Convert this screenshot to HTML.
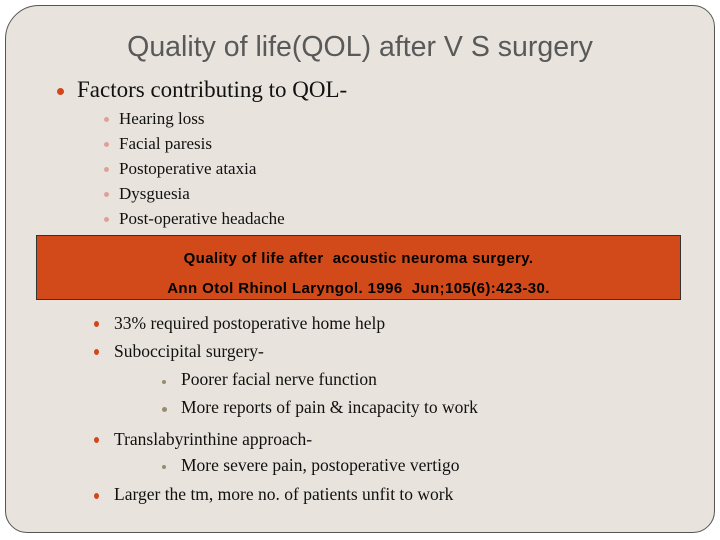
<!DOCTYPE html><html><head><style>
body{margin:0;width:720px;height:540px;background:#fff;position:relative;overflow:hidden}
.panel{position:absolute;left:5px;top:5px;width:708px;height:526px;background:#e8e4dd;border:1.5px solid #555;border-radius:34px 22px 22px 22px}
.t{position:absolute;white-space:nowrap}
.s{font-family:"Liberation Serif",serif;color:#111}
.d{position:absolute;border-radius:50%}
.box{position:absolute;left:36px;top:235px;width:643px;height:63px;background:#d24a1a;border:1px solid #333;font-family:"Liberation Sans",sans-serif;font-weight:bold;font-size:15px;letter-spacing:0.4px;color:#000;text-align:center}
</style></head><body>
<div class="panel"></div>
<div class="t" style="left:0;width:720px;text-align:center;top:31px;font-family:'Liberation Sans',sans-serif;font-size:28.5px;color:#595959">Quality of life(QOL) after V S surgery</div>
<div class="d" style="left:57px;top:88px;width:7px;height:7px;background:#d2461a"></div>
<div class="t s" style="left:77px;top:77px;font-size:23px">Factors contributing to QOL-</div>
<div class="d" style="left:104px;top:117px;width:5px;height:5px;background:#e0a09a"></div>
<div class="t s" style="left:119px;top:109px;font-size:17px">Hearing loss</div>
<div class="d" style="left:104px;top:142px;width:5px;height:5px;background:#e0a09a"></div>
<div class="t s" style="left:119px;top:134px;font-size:17px">Facial paresis</div>
<div class="d" style="left:104px;top:167px;width:5px;height:5px;background:#e0a09a"></div>
<div class="t s" style="left:119px;top:159px;font-size:17px">Postoperative ataxia</div>
<div class="d" style="left:104px;top:192px;width:5px;height:5px;background:#e0a09a"></div>
<div class="t s" style="left:119px;top:184px;font-size:17px">Dysguesia</div>
<div class="d" style="left:104px;top:217px;width:5px;height:5px;background:#e0a09a"></div>
<div class="t s" style="left:119px;top:209px;font-size:17px">Post-operative headache</div>
<div class="box"><div style="margin-top:14px">Quality of life after&nbsp; acoustic neuroma surgery.</div><div style="margin-top:13px">Ann Otol Rhinol Laryngol. 1996&nbsp; Jun;105(6):423-30.</div></div>
<div class="d" style="left:94px;top:321px;width:5px;height:6px;background:#d2461a"></div>
<div class="t s" style="left:114px;top:313px;font-size:17.5px">33% required postoperative home help</div>
<div class="d" style="left:94px;top:349px;width:5px;height:6px;background:#d2461a"></div>
<div class="t s" style="left:114px;top:341px;font-size:17.5px">Suboccipital surgery-</div>
<div class="d" style="left:162px;top:380px;width:4px;height:4px;background:#9a8a70"></div>
<div class="t s" style="left:181px;top:369px;font-size:17.5px">Poorer facial nerve function</div>
<div class="d" style="left:162px;top:407px;width:5px;height:5px;background:#9a8a70"></div>
<div class="t s" style="left:181px;top:397px;font-size:17.5px">More reports of pain &amp; incapacity to work</div>
<div class="d" style="left:94px;top:437px;width:5px;height:6px;background:#d2461a"></div>
<div class="t s" style="left:114px;top:429px;font-size:17.5px">Translabyrinthine approach-</div>
<div class="d" style="left:162px;top:465px;width:4px;height:4px;background:#9a8a70"></div>
<div class="t s" style="left:181px;top:455px;font-size:17.5px">More severe pain, postoperative vertigo</div>
<div class="d" style="left:94px;top:493px;width:5px;height:6px;background:#d2461a"></div>
<div class="t s" style="left:114px;top:484px;font-size:17.5px">Larger the tm, more no. of patients unfit to work</div>
</body></html>
